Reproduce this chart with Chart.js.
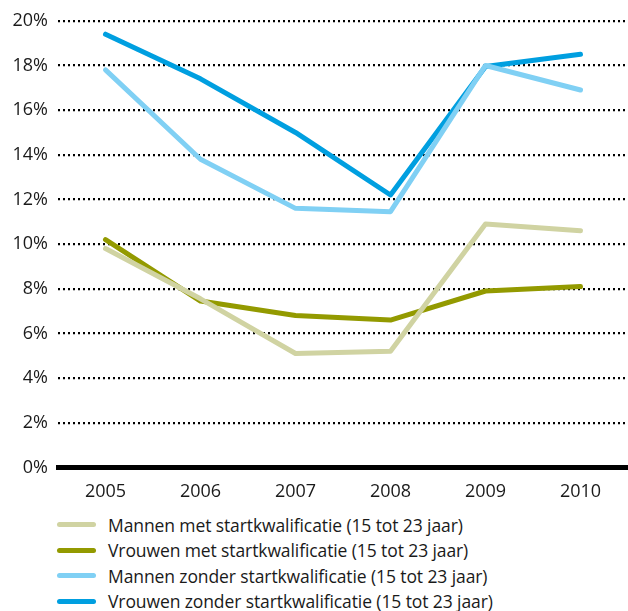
<!DOCTYPE html>
<html>
<head>
<meta charset="utf-8">
<script src="https://cdn.jsdelivr.net/npm/chart.js@4/dist/chart.umd.min.js"></script>
<style>
  html,body{margin:0;padding:0;background:#fff;}
  #wrap{position:relative;width:628px;height:611px;overflow:hidden;font-family:'Open Sans',sans-serif;}
  #box{position:absolute;left:0;top:0;width:628px;height:509px;}
  #legend{position:absolute;left:57px;top:512px;}
  .row{display:flex;align-items:center;height:25.5px;font-size:17.5px;color:#1a1a1a;letter-spacing:-0.1px;}
  .sw{width:39px;height:5px;border-radius:3px;margin-right:12px;}
</style>
</head>
<body>
<div id="wrap">
  <div id="box"><canvas id="c"></canvas></div>
  <div id="legend"></div>
</div>
<script>
/* ---- data ---- */
const years = ['2005','2006','2007','2008','2009','2010'];
const mannenMet     = [9.8, 7.55, 5.1, 5.2, 10.9, 10.6];
const vrouwenMet    = [10.2, 7.45, 6.8, 6.6, 7.9, 8.1];
const mannenZonder  = [17.8, 13.8, 11.6, 11.45, 18.0, 16.9];
const vrouwenZonder = [19.4, 17.4, 15.0, 12.2, 17.95, 18.5];
const yTicks = [0,2,4,6,8,10,12,14,16,18,20];

const series = [
  {name:'Mannen met startkwalificatie (15 tot 23 jaar)',   data:mannenMet,     color:'#d0d3a2'},
  {name:'Vrouwen met startkwalificatie (15 tot 23 jaar)',  data:vrouwenMet,    color:'#939a00'},
  {name:'Mannen zonder startkwalificatie (15 tot 23 jaar)',data:mannenZonder,  color:'#80d0f4'},
  {name:'Vrouwen zonder startkwalificatie (15 tot 23 jaar)',data:vrouwenZonder,color:'#009fe0'}
];

const FONT = "'Open Sans',sans-serif";

new Chart(document.getElementById('c'),{
  type:'line',
  data:{labels:years,datasets:series.map(s=>({
    label:s.name,data:s.data,borderColor:s.color,backgroundColor:s.color,
    borderWidth:5,pointRadius:0,tension:0,borderCapStyle:'round',borderJoinStyle:'round'}))},
  options:{responsive:true,maintainAspectRatio:false,animation:false,
    layout:{padding:{top:1,right:0,bottom:0,left:0}},
    plugins:{legend:{display:false},tooltip:{enabled:false}},
    scales:{
      x:{offset:true,grid:{display:false},border:{display:true,color:'#000',width:5},
        ticks:{color:'#1a1a1a',font:{family:FONT,size:18},padding:6}},
      y:{min:0,max:20,
        afterBuildTicks:sc=>{sc.ticks=yTicks.map(v=>({value:v}));},
        afterFit:sc=>{sc.width=58;},
        grid:{color:'#000',lineWidth:2.2,drawTicks:false},
        border:{display:false,dash:[2,3]},
        ticks:{color:'#1a1a1a',font:{family:FONT,size:18},padding:10,callback:v=>v+'%'}}
    }}
});

/* legend from the same series */
const lg=document.getElementById('legend');
series.forEach(s=>{
  const r=document.createElement('div');r.className='row';
  const sw=document.createElement('div');sw.className='sw';sw.style.background=s.color;
  const t=document.createElement('span');t.textContent=s.name;
  r.appendChild(sw);r.appendChild(t);lg.appendChild(r);
});
</script>
</body>
</html>
